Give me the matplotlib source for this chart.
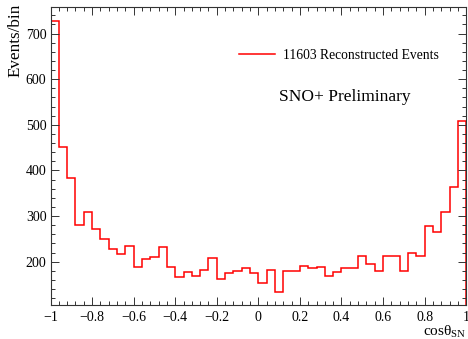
import numpy as np
import matplotlib
matplotlib.use("Agg")
import matplotlib.pyplot as plt
from matplotlib.ticker import MultipleLocator, FuncFormatter

# 50 bins from -1 to 1 (width 0.04)
BIN_LO, BIN_HI, N_BINS = -1.0, 1.0, 50
counts = [
    727, 451, 384, 280, 309, 271, 249, 228, 218, 234,
    188, 207, 210, 233, 188, 166, 177, 169, 182, 209,
    162, 176, 179, 187, 176, 153, 183, 134, 179, 179,
    191, 187, 188, 169, 177, 187, 187, 213, 196, 179,
    213, 213, 179, 220, 213, 279, 266, 309, 364, 509,
]
legend_label = "11603 Reconstructed Events"
note_text = "SNO+ Preliminary"


def fmt_tick(v, pos):
    s = f"{round(v, 6):g}"
    return s.replace("-", "\u2212")


plt.rcParams["font.family"] = ["Liberation Serif", "DejaVu Serif"]
plt.rcParams["mathtext.fontset"] = "custom"
plt.rcParams["mathtext.rm"] = "Liberation Serif"
plt.rcParams["mathtext.it"] = "Liberation Serif"

fig = plt.figure(figsize=(4.68, 3.39), dpi=100)
ax = fig.add_axes([0.108, 0.100, 0.888, 0.879])

edges = np.linspace(BIN_LO, BIN_HI, N_BINS + 1)
ax.stairs(counts, edges, baseline=0, color="#ff0000", lw=1.1, label=legend_label)

ax.set_xlim(-1, 1)
ax.set_ylim(105, 758)

ax.xaxis.set_major_locator(MultipleLocator(0.2))
ax.xaxis.set_minor_locator(MultipleLocator(0.04))
ax.yaxis.set_major_locator(MultipleLocator(100))
ax.yaxis.set_minor_locator(MultipleLocator(20))
ax.xaxis.set_major_formatter(FuncFormatter(fmt_tick))
ax.tick_params(which="both", direction="in", top=True, right=True, labelsize=10,
               width=0.7, color="#333333")
ax.tick_params(which="major", length=5.5)
ax.tick_params(which="minor", length=2.8)
ax.tick_params(axis="x", pad=4)
ax.tick_params(axis="y", pad=3)
for s in ax.spines.values():
    s.set_linewidth(0.8)
    s.set_color("#333333")

ax.set_ylabel("Events/bin", fontsize=12.3, loc="top")
ax.yaxis.set_label_coords(-0.066, 1.013)
ax.set_xlabel(r"cos$\theta_{\mathrm{SN}}$", fontsize=11, loc="right")
ax.xaxis.set_label_coords(1.0, -0.063)
ax.xaxis.label.set_va("top")

ax.legend(loc="upper left", bbox_to_anchor=(0.425, 0.902), frameon=False, fontsize=9.8,
          handlelength=2.6, handletextpad=0.6)
ax.text(0.549, 0.698, note_text, transform=ax.transAxes, fontsize=12.5, ha="left", va="center")

fig.savefig("out.png", dpi=100)
